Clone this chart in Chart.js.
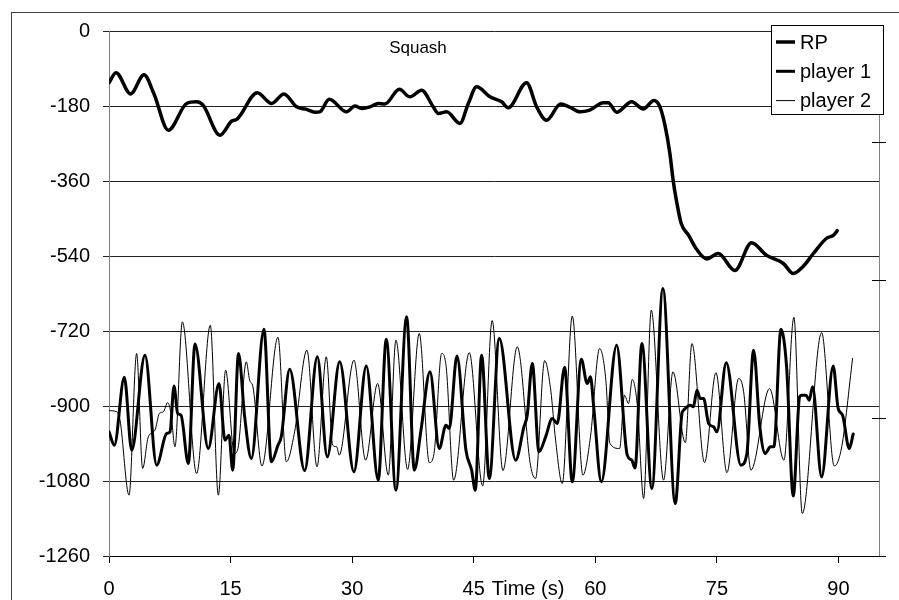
<!DOCTYPE html>
<html>
<head>
<meta charset="utf-8">
<script src="https://cdn.jsdelivr.net/npm/chart.js@4.4.0/dist/chart.umd.min.js"></script>
<style>
  html, body { margin: 0; padding: 0; background: #fff; overflow: hidden; }
  #frame { position: absolute; left: 11px; top: 12px; width: 1000px; height: 1000px;
           border-left: 1px solid #404040; border-top: 1px solid #404040; }
  #wrap { position: absolute; left: 0; top: 0; width: 899px; height: 600px; }
</style>
</head>
<body>
<div id="frame"></div>
<div id="wrap"><canvas id="squashChart" width="899" height="600"></canvas></div>
<script>
// Squash - relative phase (RP) and the two players, time in seconds
const rpTime = [0, 0.86, 2.67, 4.32, 5.53, 7.32, 9.58, 10.81, 11.6, 13.69, 15.15, 15.76, 18.3, 20.07, 21.59,
  23.15, 24.38, 25.41, 26.0, 27.18, 29.32, 30.35, 31.17, 32.2, 33.23, 34.05, 35.82, 37.13, 38.57, 40.0,
  40.64, 41.66, 43.3, 44.33, 45.36, 47.0, 48.44, 49.26, 51.52, 52.76, 53.99, 55.72, 56.87, 58.1, 59.3,
  60.98, 61.6, 62.63, 64.48, 65.92, 67.23, 67.97, 68.59, 69.2, 69.6, 70.0, 70.6, 71.5, 72.5, 73.73,
  75.17, 77.22, 79.28, 81.1, 83.2, 84.42, 85.6, 86.9, 88.5, 89.4, 89.85];
const rpValues = [-124, -100, -151, -105, -150, -238, -174, -170, -178, -250, -216, -212, -148, -174, -151,
  -182, -188, -195, -194, -164, -194, -180, -186, -182, -174, -175, -140, -158, -142, -182,
  -198, -194, -222, -174, -134, -158, -170, -184, -124, -182, -214, -175, -183, -194, -190,
  -172, -172, -195, -170, -187, -167, -182, -226, -294, -358, -406, -462, -490, -524, -547,
  -534, -575, -508, -538, -558, -582, -566, -534, -498, -490, -479];

const player1Time = [0, 0.66, 1.89, 2.8, 4.44, 5.88, 7.11, 7.53, 8.02, 8.47, 8.88, 9.79, 10.61, 12.25, 13.57,
  14.31, 14.8, 15.26, 15.98, 16.74, 17.56, 19.12, 20.03, 20.85, 21.25, 22.29, 24.14, 25.7, 26.93, 28.46,
  30.22, 31.74, 33.22, 34.21, 35.4, 36.72, 37.67, 38.49, 39.6, 40.75, 41.57, 41.98, 42.93, 44.04, 44.74,
  45.19, 45.97, 46.92, 48.15, 50.17, 51.19, 51.6, 52.22, 53.05, 53.87, 54.69, 55.3, 56.21, 57.16, 58.27,
  59.0, 59.4, 59.8, 60.74, 62.63, 63.94, 64.5, 64.9, 65.75, 66.98, 68.34, 69.86, 70.69, 70.9, 71.71,
  72.1, 72.54, 72.95, 73.36, 73.98, 74.6, 75.0, 76.15, 77.96, 78.7, 79.53, 80.3, 80.97, 81.6, 82.03,
  82.9, 83.6, 84.42, 85.2, 85.45, 85.98, 86.4, 86.8, 87.92, 89.35, 89.96, 90.5, 91.33, 91.82];
const player1Values = [-962, -994, -831, -1006, -778, -1042, -966, -962, -852, -918, -922, -1038, -751, -1002, -846,
  -982, -970, -1054, -774, -926, -1026, -716, -1034, -994, -974, -812, -1055, -782, -1022, -794,
  -1058, -804, -1078, -740, -1102, -686, -1054, -958, -818, -1002, -946, -954, -780, -1006, -1054,
  -1102, -778, -1074, -738, -1030, -950, -922, -798, -1010, -974, -930, -942, -807, -1082, -788,
  -846, -830, -902, -1082, -754, -1018, -1030, -1049, -750, -1098, -618, -1134, -918, -910, -898,
  -902, -862, -882, -882, -942, -950, -962, -796, -1042, -1014, -766, -950, -1014, -998, -998,
  -716, -806, -1116, -878, -874, -874, -886, -854, -1070, -804, -906, -922, -1002, -967];

const player2Time = [0, 0.95, 1.36, 2.47, 3.41, 4.15, 4.85, 5.67, 6.21, 6.7, 7.24, 7.65, 8.14, 9.05, 10.81,
  12.5, 13.49, 14.39, 15.46, 15.91, 16.94, 17.35, 17.76, 18.87, 20.85, 21.88, 22.9, 24.42, 25.66, 26.81,
  27.6, 28.1, 28.4, 30.22, 31.66, 33.14, 34.46, 35.4, 36.84, 38.28, 39.52, 40.1, 41.04, 41.6, 42.52,
  44.45, 46.1, 47.27, 48.6, 50.37, 52.0, 52.63, 53.75, 54.5, 55.1, 55.92, 57.16, 58.47, 59.4, 60.53,
  61.3, 61.8, 63.0, 63.6, 64.1, 64.56, 65.2, 65.96, 66.9, 68.42, 69.58, 71.1, 71.92, 73.48, 74.88,
  76.24, 77.68, 78.3, 79.2, 81.5, 83.27, 84.5, 85.53, 87.92, 89.48, 90.4, 91.74];
const player2Values = [-911, -914, -934, -1114, -774, -1050, -974, -958, -918, -914, -892, -918, -998, -698, -1062,
  -706, -1114, -814, -1014, -1002, -794, -838, -854, -1044, -735, -1034, -962, -766, -1046, -782,
  -994, -998, -1018, -790, -1030, -846, -1066, -742, -1052, -726, -1036, -1014, -774, -806, -1078,
  -772, -1092, -695, -1055, -758, -1042, -1074, -791, -862, -982, -1086, -684, -1066, -974, -762,
  -838, -990, -1002, -874, -894, -836, -902, -1122, -670, -1078, -818, -988, -750, -1036, -820,
  -1060, -834, -866, -1054, -858, -1030, -687, -1158, -724, -1044, -998, -786];

const xTicks = { min: 0, max: 95, step: 15 };
const yTicks = { min: -1260, max: 0, step: 180 };

const FONT = '"Liberation Sans", Arial, sans-serif';

function toPoints(xs, ys) {
  return xs.map((x, i) => ({ x: x, y: ys[i] }));
}

// title, axis caption, right-axis ticks and the boxed legend
const decorations = {
  id: 'decorations',
  afterDraw(chart) {
    const ctx = chart.ctx;
    const area = chart.chartArea;
    ctx.save();

    // secondary axis ticks crossing the line
    const y2 = chart.scales.y2;
    ctx.strokeStyle = '#000';
    ctx.lineWidth = 1;
    y2.ticks.forEach(t => {
      const y = Math.round(y2.getPixelForValue(t.value)) + 0.5;
      ctx.beginPath();
      ctx.moveTo(area.right - 7, y);
      ctx.lineTo(area.right + 7, y);
      ctx.stroke();
    });

    ctx.fillStyle = '#000';
    ctx.textBaseline = 'middle';
    ctx.textAlign = 'center';
    ctx.font = '17px ' + FONT;
    ctx.fillText('Squash', 418, 48);

    ctx.font = '20px ' + FONT;
    ctx.fillText('Time (s)', 528, area.bottom + 33);

    // legend
    const box = { x: 771, y: 25, w: 112, h: 89 };
    ctx.fillStyle = '#fff';
    ctx.fillRect(box.x, box.y, box.w, box.h);
    ctx.strokeStyle = '#000';
    ctx.strokeRect(box.x + 0.5, box.y + 0.5, box.w, box.h);
    ctx.textAlign = 'left';
    chart.data.datasets.forEach((ds, i) => {
      const y = box.y + 17 + i * 29.3;
      ctx.lineWidth = ds.borderWidth;
      ctx.beginPath();
      ctx.moveTo(box.x + 5, y);
      ctx.lineTo(box.x + 24, y);
      ctx.stroke();
      ctx.fillStyle = '#000';
      ctx.fillText(ds.label, box.x + 29, y + 1);
    });
    ctx.restore();
  }
};

const ctx = document.getElementById('squashChart').getContext('2d');
new Chart(ctx, {
  type: 'line',
  data: {
    datasets: [{
      label: 'RP',
      data: toPoints(rpTime, rpValues),
      borderColor: '#000',
      borderWidth: 3.5,
      cubicInterpolationMode: 'monotone',
      pointRadius: 0,
      yAxisID: 'y'
    }, {
      label: 'player 1',
      data: toPoints(player1Time, player1Values),
      borderColor: '#000',
      borderWidth: 3,
      cubicInterpolationMode: 'monotone',
      pointRadius: 0,
      yAxisID: 'y'
    }, {
      label: 'player 2',
      data: toPoints(player2Time, player2Values),
      borderColor: '#000',
      borderWidth: 1,
      cubicInterpolationMode: 'monotone',
      pointRadius: 0,
      yAxisID: 'y'
    }]
  },
  options: {
    responsive: false,
    animation: false,
    devicePixelRatio: 1,
    layout: { padding: { top: 31, right: 10, bottom: 0, left: 0 } },
    plugins: {
      legend: { display: false },
      tooltip: { enabled: false }
    },
    elements: { line: { borderJoinStyle: 'round', borderCapStyle: 'round' } },
    scales: {
      x: {
        type: 'linear',
        min: xTicks.min,
        max: xTicks.max,
        border: { color: '#000' },
        grid: { drawOnChartArea: false, tickLength: 7, color: '#000' },
        ticks: { stepSize: xTicks.step, includeBounds: false, padding: 14, maxRotation: 0,
                 color: '#000', font: { family: FONT, size: 20 },
                 callback: v => String(v) },
        afterFit(scale) { scale.height = 44; }
      },
      y: {
        min: yTicks.min,
        max: yTicks.max,
        border: { color: '#808080' },
        grid: { color: '#222', tickLength: 6 },
        ticks: { stepSize: yTicks.step, padding: 13, color: '#000', font: { family: FONT, size: 20 },
                 callback: v => String(v) },
        afterFit(scale) { scale.width = 109; }
      },
      y2: {
        position: 'right',
        min: 0,
        max: 3.8,
        border: { color: '#808080' },
        grid: { drawOnChartArea: false, drawTicks: false },
        ticks: { display: false, stepSize: 1, includeBounds: false },
        afterFit(scale) { scale.width = 10; }
      }
    }
  },
  plugins: [decorations]
});
</script>
</body>
</html>
